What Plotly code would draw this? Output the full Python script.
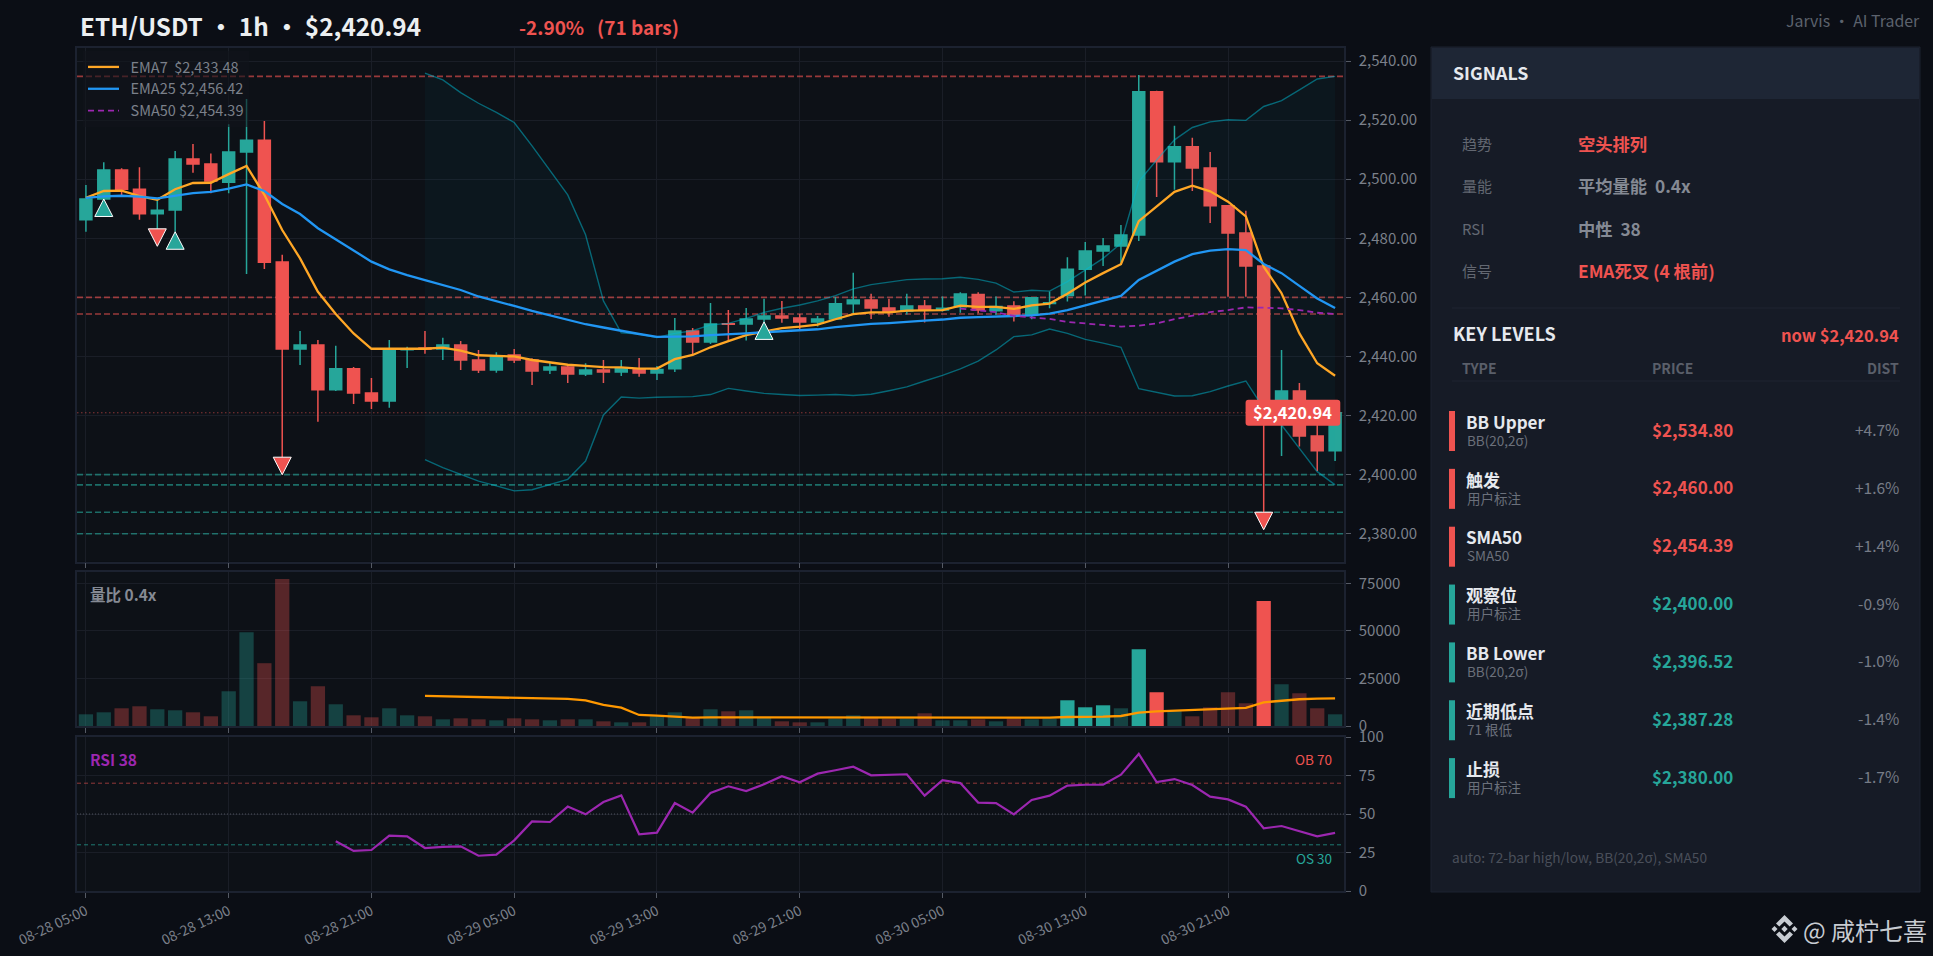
import plotly.graph_objects as go

W, H = 1933, 956
FONT = "Noto Sans CJK SC"
UP, DOWN = "#26a69a", "#ef5350"
PAGE_BG, PLOT_BG = "#0b0e15", "#0d1117"
NB = "\u00a0"

# ---------- data ----------
x_labels = ["08-28 05:00", "08-28 13:00", "08-28 21:00", "08-29 05:00", "08-29 13:00",
            "08-29 21:00", "08-30 05:00", "08-30 13:00", "08-30 21:00"]
opens = [2486.3,2493.3,2503.1,2496.6,2488.3,2489.6,2506.8,2505.1,2499.0,2509.2,2513.2,2472.0,2442.5,2443.9,2428.7,2435.8,2427.6,2424.9,
         2442.3,2442.9,2442.5,2443.9,2438.8,2435.4,2440.5,2438.8,2435.4,2436.4,2434.1,2435.4,2434.7,2435.8,2434.4,2435.8,2448.6,2444.9,
         2451.1,2451.0,2452.7,2453.7,2453.0,2451.7,2452.7,2457.8,2459.1,2456.4,2455.4,2457.1,2455.7,2456.8,2461.0,2455.5,2457.1,2454.1,
         2457.9,2460.6,2469.5,2475.7,2477.4,2481.1,2529.6,2505.9,2511.0,2503.8,2491.0,2481.8,2470.6,2423.0,2428.3,2413.1,2408.1]
closes = [2493.3,2503.1,2496.6,2488.3,2489.5,2506.8,2505.1,2499.4,2509.2,2513.2,2471.9,2442.5,2443.9,2428.7,2435.8,2427.6,2424.9,2442.2,
          2442.6,2442.4,2443.9,2438.8,2435.4,2440.0,2438.8,2435.1,2436.4,2434.1,2435.4,2434.7,2435.8,2434.4,2435.6,2448.6,2444.9,2451.0,
          2450.9,2452.7,2453.7,2453.0,2451.7,2452.7,2457.8,2459.1,2456.4,2455.1,2457.1,2456.0,2456.3,2461.1,2455.7,2456.9,2454.1,2459.9,
          2458.2,2469.5,2475.7,2477.4,2481.1,2529.6,2505.9,2511.0,2503.8,2491.0,2481.8,2470.6,2423.0,2428.3,2413.1,2408.1,2420.94]
highs = [2498,2505.7,2503.7,2504,2493.3,2509.5,2511.9,2508.7,2518.6,2527.1,2519.7,2474.4,2448.6,2445.6,2443.6,2436.4,2432.7,2445.6,
         2443.3,2448.6,2446.3,2445.2,2442.2,2441.4,2442.5,2439.4,2438,2437.1,2437.7,2438.8,2438.8,2439.5,2436.8,2453,2449.6,2458.1,
         2455.7,2456.4,2459.5,2458.8,2454.4,2453.7,2460.1,2468.3,2461.2,2459.5,2461.2,2459.1,2460.3,2461.7,2461.7,2460.3,2458.7,2460,
         2462,2473.6,2478.7,2480.1,2484.5,2535.3,2529.9,2518.1,2514,2509.2,2491.3,2489.3,2470.6,2442.2,2431,2416.8,2421]
lows = [2482.2,2493.3,2494.6,2486.3,2483.2,2482.2,2502.2,2495.2,2495.2,2467.9,2469.6,2405.9,2437.1,2417.9,2428.3,2423.9,2422.2,2422.6,
        2436.1,2440.9,2438.8,2435.4,2434.4,2434.5,2437.8,2430.3,2434.1,2431,2433.4,2431,2433.4,2433.1,2432,2434.7,2440.5,2444.2,
        2445.4,2445.4,2451.7,2451.4,2449,2450.1,2452.3,2454.6,2452.7,2453.4,2454.2,2451.5,2455.2,2454.8,2454.6,2454.1,2451.8,2452.6,
        2456.3,2458.6,2460.6,2470.6,2471.8,2479.1,2494,2496.4,2496,2485.2,2460.2,2460.2,2387.28,2406.3,2409.5,2401.2,2404.6]
ema7 = [2493.7,2496,2496.1,2494.3,2493,2496.6,2498.7,2498.8,2501.7,2504.5,2494.7,2482.8,2473.2,2461.9,2454.4,2447.8,2442.6,2442.6,
        2442.6,2442.6,2443,2442,2440.4,2440.3,2440,2438.8,2438.1,2437.2,2436.8,2436.4,2436.3,2435.9,2435.9,2439.1,2440.5,2443.1,
        2445.2,2447.2,2448.4,2449.6,2450.1,2450.8,2452.6,2454.3,2454.9,2454.9,2455.5,2455.7,2455.7,2457.2,2456.8,2456.8,2456.1,2457.3,
        2457.9,2461.2,2465,2468.2,2471.2,2485.8,2490.7,2495.7,2497.8,2495.9,2492.4,2487.4,2470.4,2461.4,2447.8,2437.7,2433.48]
ema25 = [2493.7,2494.2,2494.4,2494.1,2493.5,2494.4,2495.3,2495.7,2496.8,2498.2,2496,2491.6,2488.2,2483.4,2479.7,2475.8,2472.1,2469.5,
         2467.5,2465.8,2464.2,2462.5,2460.3,2458.8,2457.1,2455.4,2453.9,2452.5,2450.9,2449.8,2448.6,2447.6,2446.6,2446.7,2446.8,2447.2,
         2447.4,2447.8,2448.2,2448.6,2448.9,2449.2,2449.9,2450.5,2451,2451.3,2451.8,2452.1,2452.5,2453.1,2453.3,2453.4,2453.7,2453.9,
         2454.5,2455.7,2457.3,2458.8,2460.5,2465.9,2469,2472.1,2474.6,2475.8,2476.3,2476,2471.3,2468.2,2463.9,2459.6,2456.42]
sma50_start = 49
sma50 = [2456.2,2455.6,2455,2453.7,2453.3,2452.7,2451.7,2451.1,2450.6,2450.1,2450.4,2451.2,2452.6,2453.8,2455,2455.7,2456.6,2456.5,
         2456.3,2455.7,2454.8,2454.39]
bb_start = 19
bb_upper = [2535.9,2533.6,2529.3,2525.7,2522.6,2519.2,2511.3,2502.8,2494.7,2481.2,2458.8,2448,2447.6,2446.4,2447.8,2448.7,2450.7,2451.2,
            2452.9,2454.9,2456.3,2457.4,2458.8,2460.6,2462.9,2464.3,2465.1,2466,2466.2,2466.3,2466.8,2466.1,2464.8,2461.8,2462.4,2462.1,
            2465.3,2469.3,2473.2,2478.3,2499.2,2506.5,2513.3,2517.5,2519.4,2520.1,2519.9,2524.6,2526.6,2530.2,2533.9,2534.8]
bb_lower = [2405.1,2402.4,2400.1,2397.8,2396.2,2394.5,2394.9,2396.6,2398.4,2404.6,2420.2,2426.3,2425.9,2426.2,2426.4,2426.4,2427.1,2429.2,
            2428.3,2427.5,2427.1,2426.8,2426.9,2427.1,2426.8,2427.2,2428.4,2429.7,2431.7,2433.6,2435.8,2438.4,2442.2,2446.7,2447.3,2449.3,
            2447.8,2445.8,2444.5,2443.1,2429.1,2427.8,2426.6,2426.7,2428.1,2430,2431.7,2422.4,2416.8,2408.9,2401,2396.52]
volumes = [6150,7200,9310,10370,8790,8260,7200,5100,18270,49370,33030,77300,13000,20910,11420,5620,4570,9310,
           5620,5100,3510,4040,3510,2990,4040,3510,2990,3510,3510,2460,1930,1930,5100,7200,4400,8790,
           7730,8260,4400,2460,1930,1930,3870,5620,4220,3870,3870,6680,2990,2990,3510,2460,3870,3510,
           3870,13530,9840,10890,9310,40410,17750,8260,5100,9840,17750,11950,65710,21960,17220,9310,6150]
vol_bright = [55, 56, 57, 59, 60, 66]
vol_ma_start = 19
vol_ma = [15810,15640,15460,15290,14930,14760,14580,14410,14230,13530,11070,9660,5800,5450,4740,4390,4570,4570,
          4570,4570,4390,4390,4390,4220,4220,4220,4220,4220,4390,4390,4390,4570,4570,4570,4570,4390,
          4740,4740,4920,5270,7030,7730,8080,8080,8430,8960,9490,12470,13350,14060,14410,14580]
rsi_start = 14
rsi = [32.3,26,26.6,35.9,35.5,27.9,28.6,29,22.9,23.6,32.9,45.2,44.8,54.8,49.8,57.8,62.1,36.8,37.9,57.1,50.9,63.6,
       68,64.9,69.3,74.5,70.6,76.2,78.4,80.7,75.1,75.3,75.8,61.9,71.9,70.1,57.4,57.1,49.8,59.1,61.9,68.4,
       69,69,75.5,89,70.8,72.7,68.8,61.3,59.5,54.8,40.7,42.2,39,35.5,37.7]
sell_marks = [4, 11, 66]
buy_marks = [1, 5, 38]
level_names = ["BB Upper", "触发", "SMA50", "观察位", "BB Lower", "近期低点", "止损"]
level_subs = ["BB(20,2σ)", "用户标注", "SMA50", "用户标注", "BB(20,2σ)", "71 根低", "用户标注"]
level_prices = [2534.80, 2460.00, 2454.39, 2400.00, 2396.52, 2387.28, 2380.00]
level_dists = ["+4.7%", "+1.6%", "+1.4%", "-0.9%", "-1.0%", "-1.4%", "-1.7%"]
signal_keys = ["趋势", "量能", "RSI", "信号"]
signal_vals = ["空头排列", f"平均量能{NB}{NB}0.4x", f"中性{NB}{NB}38", "EMA死叉 (4 根前)"]
signal_hot = [True, False, False, True]
last_price = closes[-1]

n = len(closes)
idx = list(range(n))
tick_idx = idx[::8]

# ---------- pixel helpers for page layout ----------
def px(x): return x / W
def py(y): return 1 - y / H
def dom(a, b): return [1 - b / H, 1 - a / H]

X_DOM = [px(77), px(1344)]
X_RANGE = [-0.5, n - 0.5]
fig = go.Figure()

# ---------- price panel ----------
fig.add_trace(go.Candlestick(x=idx, open=opens, high=highs, low=lows, close=closes, showlegend=False,
                             whiskerwidth=0,
                             increasing=dict(line=dict(color=UP, width=1.5), fillcolor=UP),
                             decreasing=dict(line=dict(color=DOWN, width=1.5), fillcolor=DOWN)))
bb_x = idx[bb_start:]
BB_LINE = "rgba(0,188,212,0.5)"
fig.add_trace(go.Scatter(x=bb_x, y=bb_upper, mode="lines", line=dict(color=BB_LINE, width=1.4),
                         showlegend=False, name="BB Upper"))
fig.add_trace(go.Scatter(x=bb_x, y=bb_lower, mode="lines", line=dict(color=BB_LINE, width=1.4),
                         fill="tonexty", fillcolor="rgba(0,188,212,0.04)", showlegend=False, name="BB Lower"))
fig.add_trace(go.Scatter(x=idx, y=ema7, mode="lines", line=dict(color="#ffa726", width=2.3),
                         name=f"{NB}{NB}EMA7{NB}{NB}${ema7[-1]:,.2f}"))
fig.add_trace(go.Scatter(x=idx, y=ema25, mode="lines", line=dict(color="#2196f3", width=2.3),
                         name=f"{NB}{NB}EMA25 ${ema25[-1]:,.2f}"))
fig.add_trace(go.Scatter(x=idx[sma50_start:], y=sma50, mode="lines",
                         line=dict(color="#9c27b0", width=1.8, dash="6px,4px"),
                         name=f"{NB}{NB}SMA50 ${sma50[-1]:,.2f}"))

# ---------- volume panel ----------
def rgba(hexc, a):
    return f"rgba({int(hexc[1:3],16)},{int(hexc[3:5],16)},{int(hexc[5:7],16)},{a})"
vol_colors = [rgba(UP if c >= o else DOWN, 1 if i in vol_bright else 0.33)
              for i, (o, c) in enumerate(zip(opens, closes))]
fig.add_trace(go.Bar(x=idx, y=volumes, width=0.8, marker=dict(color=vol_colors, line=dict(width=0)),
                     xaxis="x2", yaxis="y2", showlegend=False, name="Volume"))
fig.add_trace(go.Scatter(x=idx[vol_ma_start:], y=vol_ma, mode="lines", line=dict(color="#ff9800", width=2.3),
                         xaxis="x2", yaxis="y2", showlegend=False, name="Vol MA"))

# ---------- RSI panel ----------
fig.add_trace(go.Scatter(x=idx[rsi_start:], y=rsi, mode="lines", line=dict(color="#9c27b0", width=2.2),
                         xaxis="x3", yaxis="y3", showlegend=False, name="RSI"))

shapes = []
def hline(yref_axis, xref_axis, y, color, width, dash, layer="between"):
    shapes.append(dict(type="line", xref=xref_axis, yref=yref_axis, x0=X_RANGE[0], x1=X_RANGE[1], y0=y, y1=y,
                       layer=layer, line=dict(color=color, width=width, dash=dash)))

for price in level_prices:
    c = rgba(DOWN, 0.62) if price > last_price else rgba(UP, 0.62)
    hline("y", "x", price, c, 1.6, "6px,3px")
hline("y", "x", last_price, rgba(DOWN, 0.55), 1, "1.5px,2.5px")
hline("y3", "x3", 70, rgba(DOWN, 0.6), 1, "4px,3px")
hline("y3", "x3", 30, rgba(UP, 0.7), 1, "4px,3px")
hline("y3", "x3", 50, "rgba(140,145,155,0.5)", 1, "1px,2px")

# signal markers, sized in pixels and anchored to the candle they mark
for i in sell_marks:
    shapes.append(dict(type="path", xref="x", yref="y", xsizemode="pixel", ysizemode="pixel",
                       xanchor=i, yanchor=lows[i], path="M -9 0 L 9 0 L 0 -17.5 Z",
                       fillcolor=DOWN, line=dict(color="#ffffff", width=1), layer="above"))
for i in buy_marks:
    shapes.append(dict(type="path", xref="x", yref="y", xsizemode="pixel", ysizemode="pixel",
                       xanchor=i, yanchor=lows[i], path="M 0 0 L 9 -17.5 L -9 -17.5 Z",
                       fillcolor=UP, line=dict(color="#ffffff", width=1), layer="above"))
# last price tag
shapes.append(dict(type="path", xref="x", yref="y", xsizemode="pixel", ysizemode="pixel",
                   xanchor=n - 1, yanchor=last_price,
                   path="M -86.5 13 L 2.2 13 Q 5.2 13 5.2 10 L 5.2 -10 Q 5.2 -13 2.2 -13 L -86.5 -13 "
                        "Q -89.5 -13 -89.5 -10 L -89.5 10 Q -89.5 13 -86.5 13 Z",
                   fillcolor=DOWN, line=dict(width=0), layer="above"))

# ---------- side panel ----------
def rect(x0, y0, x1, y1, fill, line=None):
    shapes.append(dict(type="rect", xref="paper", yref="paper", x0=px(x0), x1=px(x1), y0=py(y0), y1=py(y1),
                       fillcolor=fill, line=dict(color=line or fill, width=1 if line else 0), layer="below"))
rect(1431, 47, 1920, 892, "#161b26", "#1c2230")
rect(1432, 48, 1919, 99, "#1e2635")
rect(1452, 307.5, 1900, 308.5, "#1e2430")
rect(1452, 380.5, 1900, 381.5, "#1e2430")
ROW0, ROW_STEP = 431, 57.85
for k, price in enumerate(level_prices):
    cy = ROW0 + k * ROW_STEP
    rect(1449, cy - 20, 1455, cy + 20, DOWN if price > last_price else UP)

# watermark logo
def poly(points, cx=1784.5, cy=929):
    return "M " + " L ".join(f"{px(cx + a)} {py(cy + b)}" for a, b in points) + " Z"
logo = [poly([(0, -14), (8.5, -5.5), (5.2, -2.4), (0, -7.6), (-5.2, -2.4), (-8.5, -5.5)]),
        poly([(0, 14), (8.5, 5.5), (5.2, 2.4), (0, 7.6), (-5.2, 2.4), (-8.5, 5.5)]),
        poly([(0, -3.2), (3.2, 0), (0, 3.2), (-3.2, 0)]),
        poly([(-10, -3), (-7, 0), (-10, 3), (-13, 0)]),
        poly([(10, -3), (13, 0), (10, 3), (7, 0)])]
for p in logo:
    shapes.append(dict(type="path", xref="paper", yref="paper", path=p, fillcolor="#c8ccd2", line=dict(width=0)))

# ---------- texts ----------
annotations = []
def txt(x, y, text, size, color, weight=400, anchor="left"):
    annotations.append(dict(x=px(x), y=py(y), xref="paper", yref="paper", text=text, showarrow=False,
                            xanchor=anchor, yanchor="middle", align=anchor, borderpad=0,
                            font=dict(family=FONT, size=size, color=color, weight=weight)))

GAP = '<span style="font-size:26px">' + NB + '</span>'
txt(78.5, 25, f"ETH/USDT{GAP}·{GAP}1h{GAP}·{GAP}${last_price:,.2f}", 24.3, "#eceff1", 700)
txt(517.5, 26, f"-2.90%{NB}{NB}{NB}(71 bars)", 19, DOWN, 700)
txt(1921, 21, "Jarvis · AI Trader", 15.9, "#5c626d", 400, "right")
txt(88.5, 594, "量比 0.4x", 15.5, "#858a94", 700)
txt(88.5, 759, f"RSI {round(rsi[-1])}", 15.5, "#9c27b0", 700)
txt(1333, 759, "OB 70", 13.5, DOWN, 400, "right")
txt(1333, 857.5, "OS 30", 13.5, UP, 400, "right")
annotations.append(dict(x=n - 1, y=last_price, xref="x", yref="y", xshift=-42.2, yshift=1, showarrow=False,
                        text=f"${last_price:,.2f}", xanchor="center", yanchor="middle",
                        font=dict(family=FONT, size=16.5, color="#ffffff", weight=700)))

txt(1451.5, 72, "SIGNALS", 17.8, "#e6e9ee", 700)
sig_y = [143.5, 185.5, 228, 270.5]
for k, v, hot, y in zip(signal_keys, signal_vals, signal_hot, sig_y):
    txt(1460.7, y, k, 15, "#636872")
    txt(1577, y, v, 17.3, DOWN if hot else "#858a94", 700)
txt(1451.5, 333, "KEY LEVELS", 18, "#e6e9ee", 700)
txt(1900, 334.5, f"now ${last_price:,.2f}", 16.5, DOWN, 700, "right")
txt(1460.7, 368, "TYPE", 14, "#5a5f6a", 700)
txt(1651, 368, "PRICE", 14, "#5a5f6a", 700)
txt(1900, 368, "DIST", 14, "#5a5f6a", 700, "right")
for k, (nm, sb, price, d) in enumerate(zip(level_names, level_subs, level_prices, level_dists)):
    cy = ROW0 + k * ROW_STEP
    col = DOWN if price > last_price else UP
    txt(1465, cy - 9.8, nm, 17, "#e6e9ee", 700)
    txt(1465.5, cy + 8.7, sb, 13.5, "#6b707b")
    txt(1651, cy - 2, f"${price:,.2f}", 17, col, 700)
    txt(1900, cy - 2, d, 15.5, "#767b86", 400, "right")
txt(1450.5, 856.7, "auto: 72-bar high/low, BB(20,2σ), SMA50", 13.7, "#4a4f5a")
txt(1801.5, 929, "@ 咸柠七喜", 24, "#c8ccd2")

# ---------- axes ----------
GRID = "#1a1e27"
LINE = "#1c2230"
TICKC = "#7b808a"
def xax(anchor, labels=False):
    return dict(domain=X_DOM, anchor=anchor, range=X_RANGE, tickmode="array", tickvals=tick_idx,
                ticktext=x_labels if labels else [""] * len(tick_idx), showticklabels=labels, tickangle=-25,
                showgrid=True, gridcolor=GRID, gridwidth=1, zeroline=False, showline=True, linecolor=LINE,
                linewidth=1.5, mirror=True, ticks="outside", ticklen=5, tickcolor="#555a65", tickwidth=1,
                tickfont=dict(family=FONT, size=14, color=TICKC), rangeslider=dict(visible=False))
def yax(anchor, domain, rng, vals, fmt):
    return dict(domain=domain, anchor=anchor, side="right", range=rng, tickmode="array", tickvals=vals,
                tickformat=fmt, showgrid=True, gridcolor=GRID, gridwidth=1, zeroline=False, showline=True,
                linecolor=LINE, linewidth=1.5, mirror=True, ticks="outside", ticklen=5, tickcolor="#555a65",
                tickwidth=1, ticklabelstandoff=5, tickfont=dict(family=FONT, size=15, color=TICKC))

fig.update_layout(
    width=W, height=H, autosize=False, margin=dict(l=0, r=0, t=0, b=0, pad=0, autoexpand=False),
    paper_bgcolor=PAGE_BG, plot_bgcolor=PLOT_BG, boxgap=0.33, boxgroupgap=0, hovermode="closest",
    font=dict(family=FONT, color=TICKC),
    xaxis=xax("y"), xaxis2=xax("y2"), xaxis3=xax("y3", True),
    yaxis=yax("x", dom(48, 561.5), [2370.6, 2544.4], list(range(2380, 2541, 20)), ",.2f"),
    yaxis2=yax("x2", dom(572, 726), [0, 81000], [0, 25000, 50000, 75000], "d"),
    yaxis3=yax("x3", dom(737, 891), [0, 100], [0, 25, 50, 75, 100], "d"),
    legend=dict(x=px(83), y=py(51), xanchor="left", yanchor="top", bgcolor="rgba(16,20,27,0.6)",
                traceorder="normal", borderwidth=0, itemwidth=31,
                font=dict(family=FONT, size=14.5, color="#7b808a")),
    shapes=shapes, annotations=annotations,
)

fig.write_html("out.html", config=dict(displayModeBar=False),
               post_script="document.body.style.margin='0';document.body.style.overflow='hidden';")
